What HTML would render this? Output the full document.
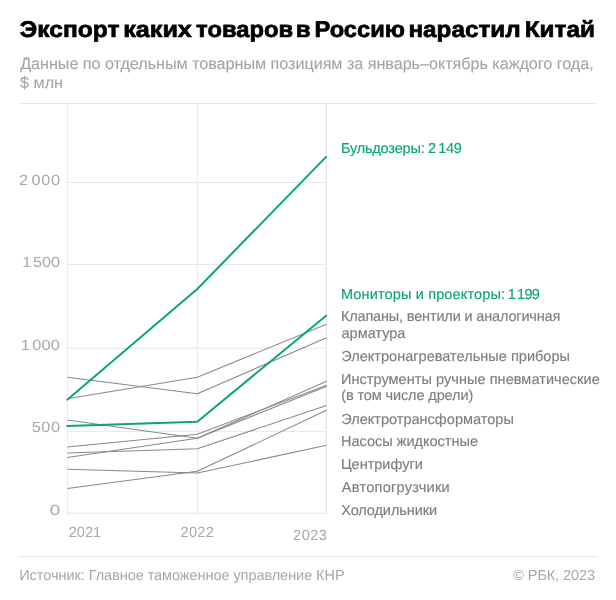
<!DOCTYPE html>
<html lang="ru">
<head>
<meta charset="utf-8">
<title>Экспорт каких товаров в Россию нарастил Китай</title>
<style>
html,body{margin:0;padding:0;background:#fff;}
body{text-rendering:geometricPrecision;width:616px;height:600px;position:relative;overflow:hidden;font-family:"Liberation Sans",sans-serif;}
.t{position:absolute;transform-origin:0 50%;white-space:pre;line-height:1;margin:0;padding:0;font-weight:normal;}
h1{margin:0;padding:0;font-size:inherit;font-weight:normal;}
.h{font-weight:bold;white-space:pre;color:#000;-webkit-text-stroke:0.7px #000;}
.sub{color:#a4a4a4;-webkit-text-stroke:0.1px #a4a4a4;}
.ax{color:#a8a8a8;}
.ws{word-spacing:-2.4px;}
.ws2{word-spacing:-1.2px;}
.lab{color:#7e7e7e;-webkit-text-stroke:0.15px #7e7e7e;}
.g{color:#0ba86a;-webkit-text-stroke:0.15px #0ba86a;}
.foot{color:#a8a8a8;}
svg{position:absolute;left:0;top:0;}
</style>
</head>
<body>

<svg width="616" height="600" viewBox="0 0 616 600">
  <g fill="#e3e3e3" shape-rendering="crispEdges">
    <rect x="20" y="103" width="576" height="1"/>
    <rect x="20" y="556" width="576" height="1"/>
  </g>
  <g fill="#e8e8e8">
    <rect x="67" y="182" width="260" height="1"/>
    <rect x="67" y="264" width="260" height="1"/>
    <rect x="67" y="347.75" width="260" height="1"/>
    <rect x="67" y="430.9" width="260" height="1"/>
    <rect x="66.8" y="512.6" width="260.2" height="1.2"/>
    <rect x="66.8" y="104" width="1" height="409.8"/>
    <rect x="196.8" y="104" width="1" height="409.8"/>
    <rect x="325.6" y="104" width="1.4" height="409.8"/>
  </g>
  <g fill="none" stroke="#888888" stroke-width="1.05" stroke-linejoin="round" stroke-linecap="butt">
    <polyline points="67.3,377.3 197.3,393.8 326.5,337.7"/>
    <polyline points="67.3,398.7 197.3,377.2 326.5,324.3"/>
    <polyline points="67.3,420 197.3,438.2 326.7,381.3"/>
    <polyline points="67.3,447 197.3,434.3 326.7,385.2"/>
    <polyline points="67.3,453 197.3,448.8 326.5,405.5"/>
    <polyline points="67.3,457.5 197.3,438.2 326.7,386.2"/>
    <polyline points="67.3,469.3 197.3,473 326.5,445.3"/>
    <polyline points="67.3,488.5 197.3,471.3 326.5,410.3"/>
  </g>
  <g fill="none" stroke="#0ba86a" stroke-width="2" stroke-linejoin="round" stroke-linecap="round">
    <polyline points="67.3,399.7 197.3,289 326.1,156.9"/>
    <polyline points="67.3,425.9 197.3,421.7 326.1,315.7"/>
  </g>
</svg>

<h1>
<span class="t h" id="tw1" style="left:19px;top:18px;font-size:22.8px;transform:translateX(0.82px) scaleX(1.0768);">Экспорт </span>
<span class="t h" id="tw2" style="left:123px;top:18px;font-size:22.8px;transform:translateX(0.22px) scaleX(1.1034);">каких </span>
<span class="t h" id="tw3" style="left:196px;top:18px;font-size:22.8px;transform:translateX(0.10px) scaleX(1.0418);">товаров </span>
<span class="t h" id="tw4" style="left:295px;top:18px;font-size:22.8px;transform:translateX(0.76px) scaleX(1.0617);">в </span>
<span class="t h" id="tw5" style="left:314px;top:18px;font-size:22.8px;transform:translateX(0.49px) scaleX(1.0381);">Россию </span>
<span class="t h" id="tw6" style="left:408px;top:18px;font-size:22.8px;transform:translateX(0.46px) scaleX(1.0640);">нарастил </span>
<span class="t h" id="tw7" style="left:524px;top:18px;font-size:22.8px;transform:translateX(0.73px) scaleX(1.0657);">Китай</span>
</h1>
<div class="t sub" id="sub1" style="left:20.18px;top:56px;font-size:16.2px;letter-spacing:-0.043px;">Данные по отдельным товарным позициям за январь–октябрь каждого года,</div>
<div class="t sub" id="sub2" style="left:20.04px;top:75px;font-size:16.2px;">$ млн</div>
<div class="t ax ws" id="y2000" style="left:19px;top:174px;font-size:14.6px;letter-spacing:0.613px;transform:translateX(0.09px) scaleX(1.1200);">2 000</div>
<div class="t ax ws" id="y1500" style="left:22px;top:256px;font-size:14.6px;letter-spacing:-0.091px;transform:translateX(0.16px) scaleX(1.1200);">1 500</div>
<div class="t ax ws" id="y1000" style="left:20px;top:339px;font-size:14.6px;letter-spacing:0.213px;transform:translateX(0.74px) scaleX(1.1200);">1 000</div>
<div class="t ax" id="y500" style="left:31px;top:421px;font-size:14.6px;letter-spacing:0.454px;transform:translateX(0.72px) scaleX(1.1200);">500</div>
<div class="t ax sx" id="y0" style="left:49px;top:504px;font-size:14.6px;transform:translateX(0.64px) scaleX(1.2793);">0</div>
<div class="t ax" id="x2021" style="left:68.82px;top:526px;font-size:14.6px;letter-spacing:-0.073px;">2021</div>
<div class="t ax" id="x2022" style="left:180.48px;top:526px;font-size:14.6px;letter-spacing:0.331px;">2022</div>
<div class="t ax" id="x2023" style="left:293.08px;top:529px;font-size:14.6px;letter-spacing:0.460px;">2023</div>
<div class="t lab g" id="l1" style="left:340.92px;top:142px;font-size:14.5px;letter-spacing:-0.181px;">Бульдозеры: </div>
<div class="t lab g ws2" id="l1n" style="left:428.06px;top:142px;font-size:14.5px;letter-spacing:-0.353px;">2 149</div>
<div class="t lab g" id="l2" style="left:340.92px;top:288px;font-size:14.5px;letter-spacing:0.150px;">Мониторы и проекторы: </div>
<div class="t lab g ws2" id="l2n" style="left:507.67px;top:288px;font-size:14.5px;letter-spacing:-0.739px;">1 199</div>
<div class="t lab" id="l3" style="left:340.92px;top:310px;font-size:14.5px;letter-spacing:-0.162px;">Клапаны, вентили и аналогичная</div>
<div class="t lab" id="l3b" style="left:341.54px;top:327px;font-size:14.5px;">арматура</div>
<div class="t lab" id="l4" style="left:341.21px;top:350px;font-size:14.5px;letter-spacing:0.028px;">Электронагревательные приборы</div>
<div class="t lab" id="l5" style="left:340.92px;top:373px;font-size:14.5px;letter-spacing:0.057px;">Инструменты ручные пневматические</div>
<div class="t lab" id="l5b" style="left:341.29px;top:389px;font-size:14.5px;letter-spacing:-0.118px;">(в том числе дрели)</div>
<div class="t lab" id="l6" style="left:341.21px;top:413px;font-size:14.5px;letter-spacing:0.018px;">Электротрансформаторы</div>
<div class="t lab" id="l7" style="left:340.92px;top:435px;font-size:14.5px;letter-spacing:0.012px;">Насосы жидкостные</div>
<div class="t lab" id="l8" style="left:340.92px;top:458px;font-size:14.5px;letter-spacing:-0.017px;">Центрифуги</div>
<div class="t lab" id="l9" style="left:341.85px;top:481px;font-size:14.5px;letter-spacing:0.272px;">Автопогрузчики</div>
<div class="t lab" id="l10" style="left:341.22px;top:504px;font-size:14.5px;letter-spacing:-0.087px;">Холодильники</div>
<div class="t foot" id="src" style="left:19.25px;top:569px;font-size:14.5px;letter-spacing:-0.055px;">Источник: Главное таможенное управление КНР</div>
<div class="t foot" id="copy" style="left:513.36px;top:569px;font-size:14.5px;letter-spacing:-0.099px;">© РБК, 2023</div>
</body>
</html>
